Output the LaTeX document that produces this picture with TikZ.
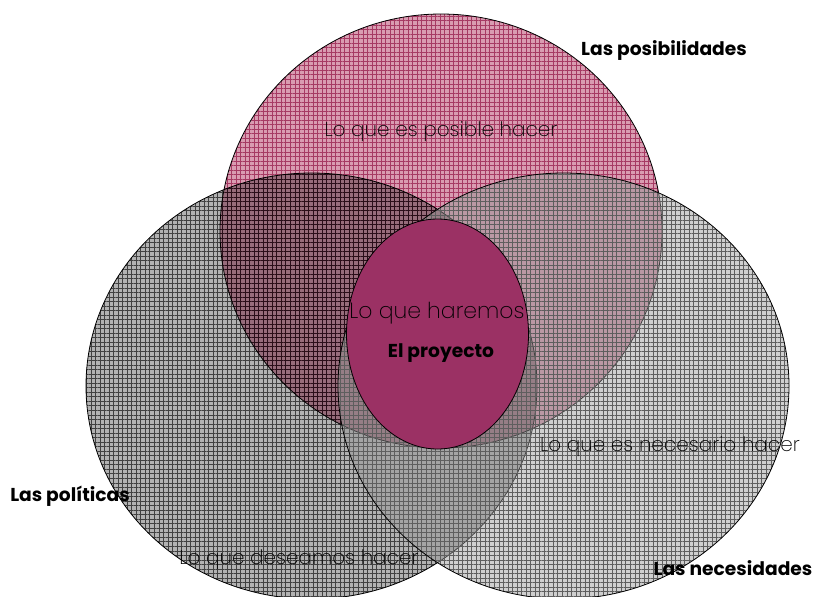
\documentclass[tikz,border=0pt]{standalone}
\usepackage{fontspec}
\setmainfont{Poppins}
\newfontfamily\thinfont{Poppins}[UprightFont=* ExtraLight]
\usetikzlibrary{patterns.meta}

\definecolor{posibfill}{HTML}{D99CB1}
\definecolor{posibgrid}{HTML}{A63A63}
\definecolor{politfill}{HTML}{B2B2B2}
\definecolor{politgrid}{HTML}{5E5E5E}
\definecolor{necesfill}{HTML}{959595}
\definecolor{necesgrid}{HTML}{5E5E5E}
\definecolor{corefill}{HTML}{9B3164}

\begin{document}
\begin{tikzpicture}[
  x=0.75pt, y=-0.75pt,
  every node/.style={inner sep=0pt},
  title/.style={font=\bfseries\fontsize{14}{16}\selectfont},
  idea/.style={font=\thinfont\fontsize{15}{17}\selectfont},
  venn/.style={draw=black, line width=0.6pt,
    pattern={Hatch[distance=3.4pt, line width=0.25pt]}}
]
\useasboundingbox (0,0) rectangle (816,596);

% Las posibilidades
\draw[venn, pattern color=posibgrid, preaction={fill=posibfill}] (441,231) ellipse [x radius=221, y radius=217];

% Las politicas, multiplied over the pink one
\begin{scope}[blend mode=multiply]
\draw[venn, pattern color=politgrid, preaction={fill=politfill}] (311.5,386) ellipse [x radius=225.5, y radius=213];
\end{scope}

% Las necesidades, see-through
\draw[venn, pattern color=necesgrid, fill opacity=0.45,
  preaction={fill=necesfill, fill opacity=0.45}] (563.5,386) ellipse [x radius=225.5, y radius=213];

% El proyecto
\draw[fill=corefill, line width=0.6pt] (437.5,334) ellipse [x radius=91, y radius=115];

% Texts
\node[idea] (posibtxt) at (441,132) {Lo que es posible hacer};
\node[idea] (necestxt) at (670,447) {Lo que es necesario hacer};
\node[idea] (polittxt) at (299,560) {Lo que deseamos hacer};
\node[idea, font=\thinfont\fontsize{16.5}{18}\selectfont] (coretxt) at (437,313) {Lo que haremos};
\node[title] (proyecto) at (441,353) {El proyecto};

% Titles
\node[title] (posib) at (664,51) {Las posibilidades};
\node[title] (polit) at (70,496) {Las políticas};
\node[title] (neces) at (733,568) {Las necesidades};

\end{tikzpicture}
\end{document}
